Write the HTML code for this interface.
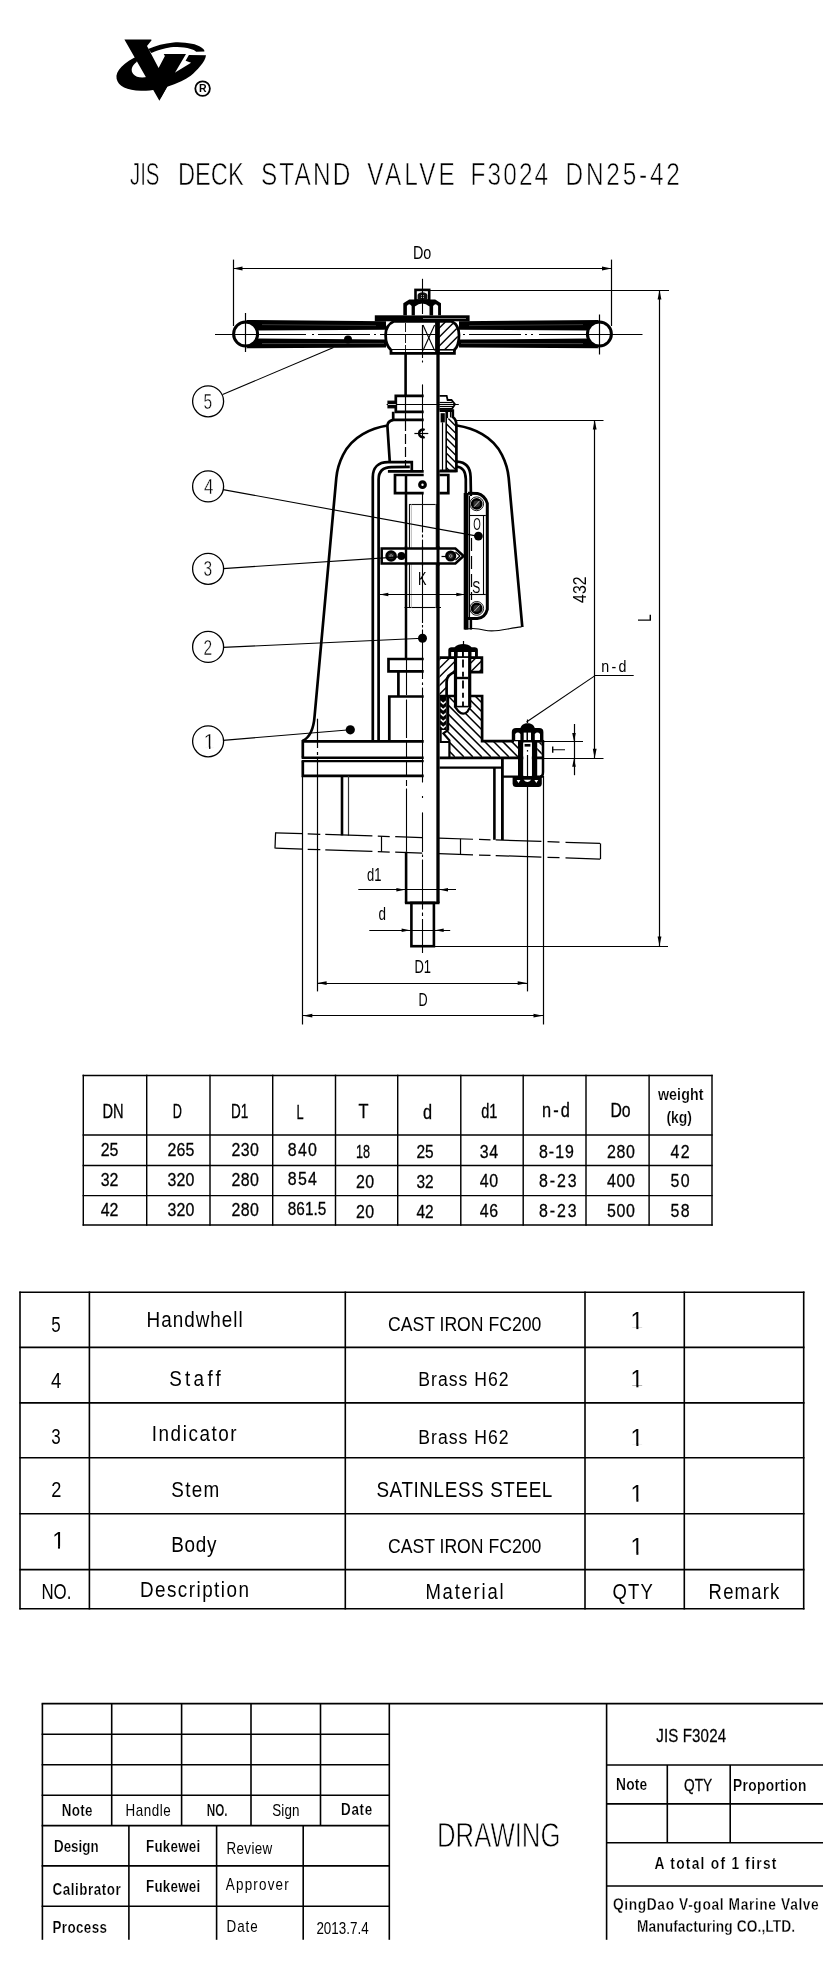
<!DOCTYPE html>
<html><head><meta charset="utf-8"><title>JIS DECK STAND VALVE F3024 DN25-42</title>
<style>
html,body{margin:0;padding:0;background:#fff;}
body{width:830px;height:1988px;overflow:hidden;font-family:"Liberation Sans",sans-serif;}
svg{display:block;position:absolute;left:0;top:0;will-change:transform;font-family:"Liberation Sans",sans-serif;}
svg *{stroke-linecap:butt;}
</style></head><body>
<svg width="830" height="1988" viewBox="0 0 830 1988" stroke="#000" fill="none">
<g id="logo" fill="#000" stroke="none">
<path d="M124.4,39.5 L151,39.5 C151.8,39.7 151.6,40.6 150.8,41.2 L147,46 L158.6,68 L164.9,56.1 L163.7,54 L186,54 L175.1,72.6 L159.4,100.8 Z"/>
<path d="M139,55.5 C124,62 115,71 116.6,78.8 C118,86 127,90.6 141,90.8 C147,90.9 152,90.2 156,89.2 L148,76.6 C142,78.6 136,77.4 133.2,74 C130.4,70.4 131.6,65.8 136.6,62 Z"/>
<path d="M188.9,55 L206,55.2 C205.6,58.6 203.4,62.5 200.1,66.3 C197.4,69.6 194.4,72.8 190.7,75.7 C187.6,78 184.6,79.6 181.3,81.2 C176.6,83.4 172,85 167.2,86.7 L160.4,98.6 L164,80 L174,72 L175.1,72.6 L191.1,62.8 L185.6,60.8 Z"/>
<path d="M148.2,48.9 C156,45.6 164,43.2 173.5,42.4 C178,42 181,42.2 185.2,42.8 C190,43.4 194,44 197,45.2 C200.4,46.6 203,48.2 204.2,50 L204.4,51.4 L196.2,51.7 C194.6,50.4 193,49.8 190.7,49.1 C186,47.6 182,47.2 177.4,47.1 C173,47 169.6,47.4 165.7,48.3 C160.4,49.4 156,51 151.4,53 Z"/>
</g>
<circle cx="202.6" cy="88.6" r="7.3" stroke-width="1.8" fill="none" />
<text x="202.7" y="92.4" font-size="10.5" font-weight="bold" text-anchor="middle" fill="#000" stroke="none">R</text>
<text transform="translate(129.90,185.4) scale(0.671,1)" font-size="30.5" font-weight="normal" fill="#000" stroke="#fff" stroke-width="0.6">JIS</text>
<text transform="translate(177.90,185.4) scale(0.777,1)" font-size="30.5" font-weight="normal" fill="#000" stroke="#fff" stroke-width="0.6">DECK</text>
<text transform="translate(261.00,185.4) scale(0.800,1)" font-size="30.5" font-weight="normal" letter-spacing="2.63" fill="#000" stroke="#fff" stroke-width="0.6">STAND</text>
<text transform="translate(367.30,185.4) scale(0.800,1)" font-size="30.5" font-weight="normal" letter-spacing="3.92" fill="#000" stroke="#fff" stroke-width="0.6">VALVE</text>
<text transform="translate(470.50,185.4) scale(0.800,1)" font-size="30.5" font-weight="normal" letter-spacing="2.66" fill="#000" stroke="#fff" stroke-width="0.6">F3024</text>
<text transform="translate(565.50,185.4) scale(0.800,1)" font-size="30.5" font-weight="normal" letter-spacing="3.50" fill="#000" stroke="#fff" stroke-width="0.6">DN25-42</text>
<g id="drawing">
<line x1="233.5" y1="259.6" x2="233.5" y2="326" stroke-width="1.2" />
<line x1="611.5" y1="259.6" x2="611.5" y2="326" stroke-width="1.2" />
<line x1="233" y1="268.5" x2="611.5" y2="268.5" stroke-width="1.2" />
<polygon points="233.00,268.50 242.50,266.60 242.50,270.40" fill="#000" stroke="none"/>
<polygon points="611.50,268.50 602.00,270.40 602.00,266.60" fill="#000" stroke="none"/>
<text transform="translate(412.90,259) scale(0.786,1)" font-size="18.3" font-weight="normal" fill="#000" stroke="none">Do</text>
<line x1="430" y1="290.5" x2="669" y2="290.5" stroke-width="1.2" />
<line x1="659.5" y1="290" x2="659.5" y2="946" stroke-width="1.2" />
<polygon points="659.50,290.00 661.40,299.50 657.60,299.50" fill="#000" stroke="none"/>
<polygon points="659.50,946.00 657.60,936.50 661.40,936.50" fill="#000" stroke="none"/>
<line x1="434" y1="946.5" x2="668" y2="946.5" stroke-width="1.2" />
<text transform="translate(650.6,621.7) rotate(-90) translate(0.00,0) scale(0.708,1)" font-size="19" font-weight="normal" fill="#000" stroke="none">L</text>
<line x1="456.5" y1="420.5" x2="603.5" y2="420.5" stroke-width="1.2" />
<line x1="543" y1="758.5" x2="603.5" y2="758.5" stroke-width="1.2" />
<line x1="594.5" y1="420" x2="594.5" y2="758.3" stroke-width="1.2" />
<polygon points="594.70,420.00 596.60,429.50 592.80,429.50" fill="#000" stroke="none"/>
<polygon points="594.70,758.30 592.80,748.80 596.60,748.80" fill="#000" stroke="none"/>
<text transform="translate(585.5,602.9) rotate(-90) translate(0.00,0) scale(0.836,1)" font-size="19" font-weight="normal" fill="#000" stroke="none">432</text>
<line x1="526.5" y1="722" x2="594.7" y2="675.9" stroke-width="1.1" />
<line x1="594.7" y1="675.5" x2="633.7" y2="675.5" stroke-width="1.1" />
<text transform="translate(601.20,672) scale(0.840,1)" font-size="17" font-weight="normal" letter-spacing="2.76" fill="#000" stroke="none">n-d</text>
<line x1="543" y1="741.5" x2="583" y2="741.5" stroke-width="1.2" />
<line x1="574.5" y1="724" x2="574.5" y2="775.2" stroke-width="1.2" />
<polygon points="574.00,741.40 572.20,732.90 575.80,732.90" fill="#000" stroke="none"/>
<polygon points="574.00,758.30 575.80,766.80 572.20,766.80" fill="#000" stroke="none"/>
<text transform="translate(564.6,753) rotate(-90) translate(0.00,0) scale(0.609,1)" font-size="18" font-weight="normal" fill="#000" stroke="none">T</text>
<polygon points="246,320 386,321.2 386,329.8 257,330.5" fill="#000" stroke="none"/>
<polygon points="246,348.2 386,347.6 386,339.6 257,338.6" fill="#000" stroke="none"/>
<polygon points="599,320 459,321.2 459,329.8 588,330.5" fill="#000" stroke="none"/>
<polygon points="599,348.2 459,347.6 459,339.6 588,338.6" fill="#000" stroke="none"/>
<line x1="262" y1="324.6" x2="376" y2="325.6" stroke-width="0.6" stroke="#fff" opacity="0.35"/>
<line x1="469" y1="325.6" x2="583" y2="324.6" stroke-width="0.6" stroke="#fff" opacity="0.35"/>
<line x1="262" y1="343.6" x2="384" y2="343.4" stroke-width="0.6" stroke="#fff" opacity="0.45"/>
<line x1="461" y1="343.4" x2="583" y2="343.6" stroke-width="0.6" stroke="#fff" opacity="0.45"/>
<circle cx="245.6" cy="334" r="12" stroke-width="3" fill="#fff" />
<circle cx="599.4" cy="334" r="12" stroke-width="3" fill="#fff" />
<line x1="215" y1="334.5" x2="306" y2="334.5" stroke-width="1.2" />
<line x1="312" y1="334.5" x2="386" y2="334.5" stroke-width="1.2" stroke-dasharray="2 4 52 4"/>
<line x1="459" y1="334.5" x2="533" y2="334.5" stroke-width="1.2" stroke-dasharray="52 4 2 4" stroke-dashoffset="-10"/>
<line x1="539" y1="334.5" x2="642.5" y2="334.5" stroke-width="1.2" />
<line x1="245.5" y1="313" x2="245.5" y2="352" stroke-width="1.2" />
<line x1="599.5" y1="314.5" x2="599.5" y2="354.5" stroke-width="1.2" />
<circle cx="348" cy="339.6" r="4" stroke-width="0" fill="#000" stroke="none"/>
<rect x="374.8" y="315.3" width="94.8" height="6.0" stroke-width="0" fill="#000" stroke="none"/>
<line x1="423" y1="318.5" x2="466" y2="318.5" stroke-width="0.7" stroke="#fff" opacity="0.7"/>
<path d="M394,321.3 C388,324 385.6,329 385.6,335 C385.6,341.5 387.5,347 391,350 L391,353.3 L454.4,353.3 L454.4,350 C457.6,347 459,341.5 459,335 C459,329 456.8,324 451.5,321.3 Z" stroke-width="2.8" fill="#fff" />
<clipPath id="hc1"><path d="M438.5,322 L450.5,322 C455.8,324.5 457.8,329 457.8,335 C457.8,341 456.4,346.5 453.4,350 L438.5,350 Z"/></clipPath><g clip-path="url(#hc1)">
<line x1="400.3" y1="322" x2="372.3" y2="350" stroke-width="1.4" />
<line x1="409.3" y1="322" x2="381.3" y2="350" stroke-width="1.4" />
<line x1="418.3" y1="322" x2="390.3" y2="350" stroke-width="1.4" />
<line x1="427.3" y1="322" x2="399.3" y2="350" stroke-width="1.4" />
<line x1="436.3" y1="322" x2="408.3" y2="350" stroke-width="1.4" />
<line x1="445.3" y1="322" x2="417.3" y2="350" stroke-width="1.4" />
<line x1="454.3" y1="322" x2="426.3" y2="350" stroke-width="1.4" />
<line x1="463.3" y1="322" x2="435.3" y2="350" stroke-width="1.4" />
<line x1="472.3" y1="322" x2="444.3" y2="350" stroke-width="1.4" />
<line x1="481.3" y1="322" x2="453.3" y2="350" stroke-width="1.4" />
<line x1="490.3" y1="322" x2="462.3" y2="350" stroke-width="1.4" />
</g>
<line x1="437.5" y1="321.3" x2="437.5" y2="353.3" stroke-width="4.8" />
<line x1="422.5" y1="325" x2="422.5" y2="350.4" stroke-width="1.2" />
<line x1="423" y1="325" x2="434.6" y2="350.4" stroke-width="1.1" />
<line x1="434.6" y1="325" x2="423" y2="350.4" stroke-width="1.1" />
<line x1="405.5" y1="323" x2="405.5" y2="352" stroke-width="0.9" stroke-dasharray="9 2"/>
<line x1="386" y1="334.5" x2="436" y2="334.5" stroke-width="1.2" />
<line x1="389" y1="349.5" x2="436" y2="349.5" stroke-width="1.2" />
<line x1="438.5" y1="349.8" x2="456" y2="349.8" stroke-width="1.6" />
<rect x="415.5" y="289.9" width="13.7" height="10.6" stroke-width="2.6" fill="#fff" />
<path d="M417.6,299.6 L417.6,295 C418.4,291.2 426.6,291.2 427.4,295 L427.4,299.6 Z" fill="#111" stroke="none"/>
<line x1="421.5" y1="295.2" x2="421.5" y2="298.6" stroke-width="0.7" stroke="#fff" stroke-dasharray="1 0.8"/>
<line x1="423.5" y1="295.2" x2="423.5" y2="298.6" stroke-width="0.7" stroke="#fff" stroke-dasharray="1 0.8"/>
<path d="M403.3,315.3 L403.3,303.2 L409.2,299.5 L435.2,299.5 L441,303.2 L441,315.3 Z" fill="#000" stroke="none"/>
<path d="M406.9,315.3 L406.9,306 Q409.2,302.6 411.6,306 L411.6,315.3 Z" fill="#fff" stroke="none"/>
<path d="M414.9,315.3 L414.9,306.6 Q422.2,300.4 429.5,306.6 L429.5,315.3 Z" fill="#fff" stroke="none"/>
<path d="M433.1,315.3 L433.1,306 Q435.6,302.6 438.1,306 L438.1,315.3 Z" fill="#fff" stroke="none"/>
<line x1="405.6" y1="353.3" x2="405.6" y2="396" stroke-width="2.6" />
<line x1="438" y1="353.3" x2="438" y2="903" stroke-width="3.3" />
<line x1="405.5" y1="396" x2="405.5" y2="420" stroke-width="1.2" />
<line x1="405.5" y1="421" x2="405.5" y2="466" stroke-width="1.2" stroke-dasharray="10 3"/>
<line x1="406" y1="475" x2="406" y2="659" stroke-width="2.5" />
<line x1="406.5" y1="659" x2="406.5" y2="695" stroke-width="1.1" />
<line x1="406.5" y1="699.5" x2="406.5" y2="738" stroke-width="1.1" />
<line x1="406.5" y1="742" x2="406.5" y2="757" stroke-width="1.1" />
<line x1="406.5" y1="761" x2="406.5" y2="775" stroke-width="1.1" />
<line x1="406.5" y1="780" x2="406.5" y2="786" stroke-width="1.1" />
<line x1="406.5" y1="788.5" x2="406.5" y2="851.8" stroke-width="1.1" />
<line x1="406.1" y1="851.8" x2="406.1" y2="903" stroke-width="2.6" />
<line x1="404.9" y1="902.9" x2="439.5" y2="902.9" stroke-width="2.6" />
<rect x="411.4" y="902.9" width="22.5" height="43.3" stroke-width="2.6" fill="none" />
<line x1="422.5" y1="278.8" x2="422.5" y2="314" stroke-width="1.1" />
<line x1="422.5" y1="328" x2="422.5" y2="358" stroke-width="1.1" />
<line x1="422.5" y1="360.5" x2="422.5" y2="362.5" stroke-width="1.1" />
<line x1="422.5" y1="384.4" x2="422.5" y2="470.7" stroke-width="1.1" />
<line x1="422.5" y1="493.6" x2="422.5" y2="532.5" stroke-width="1.1" />
<line x1="422.5" y1="534.5" x2="422.5" y2="537.5" stroke-width="1.1" />
<line x1="422.5" y1="539.6" x2="422.5" y2="623" stroke-width="1.1" />
<line x1="422.5" y1="625" x2="422.5" y2="627.5" stroke-width="1.1" />
<line x1="422.5" y1="629.5" x2="422.5" y2="679" stroke-width="1.1" />
<line x1="422.5" y1="682.4" x2="422.5" y2="685" stroke-width="1.1" />
<line x1="422.5" y1="687.6" x2="422.5" y2="782.5" stroke-width="1.1" />
<line x1="422.5" y1="796" x2="422.5" y2="798" stroke-width="1.1" />
<line x1="422.5" y1="812.4" x2="422.5" y2="852" stroke-width="1.1" />
<line x1="422.5" y1="854.5" x2="422.5" y2="857" stroke-width="1.1" />
<line x1="422.5" y1="859.5" x2="422.5" y2="909.6" stroke-width="1.1" />
<line x1="422.5" y1="912.5" x2="422.5" y2="916" stroke-width="1.1" />
<line x1="422.5" y1="919" x2="422.5" y2="953" stroke-width="1.1" />
<path d="M387.5,425.5 C372,428 352,436 343,455 C338.5,464 337,470 336.3,478 L314.6,716 C313.8,727 311,737 302.5,741" stroke-width="2.7" fill="none" />
<path d="M457,425.5 C473,428 493,436 502,455 C506.5,464 508,470 508.7,478 L522.3,627" stroke-width="2.7" fill="none" />
<path d="M464.6,629.2 C472,628 478,628.4 485,630.2 C496,633 508,628 521.5,626.9" stroke-width="1.1" fill="none" />
<path d="M423.7,395.9 L395.8,395.9 L395.8,411.8 L423.7,411.8" stroke-width="2.7" fill="none" />
<path d="M393.2,411.8 L393.2,419.8 L423.7,419.8" stroke-width="2.7" fill="none" />
<rect x="388" y="401.2" width="7.8" height="6.6" stroke-width="1.2" fill="#000" />
<line x1="386.6" y1="404.5" x2="458.8" y2="404.5" stroke-width="1.2" />
<line x1="388" y1="404.5" x2="395.8" y2="404.5" stroke-width="0.8" stroke="#fff"/>
<path d="M393.2,419.8 C389.5,420.5 387.5,422.5 387.4,426 L389.8,462.2" stroke-width="2.7" fill="none" />
<path d="M439.5,395.9 L446.7,395.9 L447.6,400 L451.5,400 L455,404.4 L452,408.8 L439.5,408.8" stroke-width="1.8" fill="none" />
<line x1="439.5" y1="402.5" x2="452.5" y2="402.5" stroke-width="1.2" />
<line x1="439.5" y1="406.5" x2="453" y2="406.5" stroke-width="1.2" />
<path d="M439.5,410.6 L452.8,410.6 L452.8,417 C455.5,419 456.4,421 456.4,425 L456.4,470.8 L439.5,470.8" stroke-width="2.7" fill="#fff" />
<clipPath id="hc2"><path d="M446.2,419 L452.6,417.4 C455.4,419 456.2,421 456.2,425 L456.2,470.6 L446.2,470.6 Z"/></clipPath><g clip-path="url(#hc2)">
<line x1="382.1" y1="418" x2="435.1" y2="471" stroke-width="1.4" />
<line x1="389.4" y1="418" x2="442.4" y2="471" stroke-width="1.4" />
<line x1="396.7" y1="418" x2="449.7" y2="471" stroke-width="1.4" />
<line x1="404.0" y1="418" x2="457.0" y2="471" stroke-width="1.4" />
<line x1="411.3" y1="418" x2="464.3" y2="471" stroke-width="1.4" />
<line x1="418.6" y1="418" x2="471.6" y2="471" stroke-width="1.4" />
<line x1="425.9" y1="418" x2="478.9" y2="471" stroke-width="1.4" />
<line x1="433.2" y1="418" x2="486.2" y2="471" stroke-width="1.4" />
<line x1="440.5" y1="418" x2="493.5" y2="471" stroke-width="1.4" />
<line x1="447.8" y1="418" x2="500.8" y2="471" stroke-width="1.4" />
<line x1="455.1" y1="418" x2="508.1" y2="471" stroke-width="1.4" />
<line x1="462.4" y1="418" x2="515.4" y2="471" stroke-width="1.4" />
<line x1="469.7" y1="418" x2="522.7" y2="471" stroke-width="1.4" />
<line x1="477.0" y1="418" x2="530.0" y2="471" stroke-width="1.4" />
<line x1="484.3" y1="418" x2="537.3" y2="471" stroke-width="1.4" />
<line x1="491.6" y1="418" x2="544.6" y2="471" stroke-width="1.4" />
<line x1="498.9" y1="418" x2="551.9" y2="471" stroke-width="1.4" />
<line x1="506.2" y1="418" x2="559.2" y2="471" stroke-width="1.4" />
<line x1="513.5" y1="418" x2="566.5" y2="471" stroke-width="1.4" />
</g>
<line x1="446.2" y1="411" x2="446.2" y2="470.8" stroke-width="1.6" />
<rect x="440.6" y="413.2" width="4.2" height="9.2" stroke-width="0" fill="#000" stroke="none"/>
<line x1="442.5" y1="422.4" x2="442.5" y2="470.8" stroke-width="1.2" />
<line x1="447.5" y1="411" x2="447.5" y2="418" stroke-width="1.2" />
<line x1="450.5" y1="411" x2="450.5" y2="417.4" stroke-width="1.2" />
<line x1="414.4" y1="433.5" x2="428.3" y2="433.5" stroke-width="1.2" />
<path d="M424.6,430 A3.8,3.8 0 1 0 424.6,436.8" stroke-width="2.5" fill="none" />
<path d="M411.8,470.6 L411.8,462.2 L388,462.2 C378,462.2 372.8,468 372.8,477 L372.8,741.4" stroke-width="2.7" fill="none" />
<path d="M409.8,466.9 L391.5,467.1 C383,467.2 378.6,471.5 378.6,479.5 L378.6,741.4" stroke-width="2.7" fill="none" />
<line x1="387.9" y1="471.4" x2="423.7" y2="471.4" stroke-width="2.8" />
<path d="M456.8,461.6 C466,462 470.4,468 470.6,477 L470.9,494" stroke-width="2.7" fill="none" />
<path d="M456.5,466.5 C462,467 465.6,471 465.8,479 L465.8,496" stroke-width="2.7" fill="none" />
<line x1="439.5" y1="471.2" x2="456.5" y2="471.2" stroke-width="2.2" />
<path d="M423.7,475 L395,475 L395,493.2 L423.7,493.2" stroke-width="2.7" fill="none" />
<path d="M439.5,475 L448.3,475 L448.3,493.2 L439.5,493.2" stroke-width="2.7" fill="none" />
<circle cx="422.5" cy="484.7" r="2.8" stroke-width="3.2" fill="#fff" />
<rect x="409.5" y="504.5" width="27.0" height="103.0" stroke-width="1.1" fill="none" stroke="#111"/>
<line x1="404.5" y1="607.5" x2="441" y2="607.5" stroke-width="1.2" />
<line x1="411.5" y1="504.2" x2="411.5" y2="607.8" stroke-width="0.7" stroke="#aaa"/>
<line x1="435.5" y1="504.2" x2="435.5" y2="607.8" stroke-width="0.7" stroke="#aaa"/>
<path d="M381.7,548.5 L455.4,548.5 L463.6,556 L455.4,563.4 L381.7,563.4 Z" stroke-width="2.5" fill="#fff" />
<line x1="406" y1="546" x2="406" y2="566" stroke-width="2.4" />
<line x1="438" y1="546" x2="438" y2="566" stroke-width="3" />
<line x1="422.5" y1="546" x2="422.5" y2="566" stroke-width="1.2" />
<circle cx="391.1" cy="556" r="4.5" stroke-width="2.6" fill="#222" />
<circle cx="391.1" cy="556" r="1.3" stroke-width="0.8" fill="none" stroke="#bbb"/>
<circle cx="401.4" cy="556" r="3.9" stroke-width="0" fill="#000" stroke="none"/>
<circle cx="450.7" cy="556" r="4.3" stroke-width="2.6" fill="#222" />
<circle cx="450.7" cy="556" r="1.3" stroke-width="0.8" fill="none" stroke="#bbb"/>
<line x1="441.5" y1="556.5" x2="446" y2="556.5" stroke-width="1.2" />
<line x1="455.4" y1="552" x2="460" y2="556" stroke-width="1.2" />
<line x1="455.4" y1="560" x2="460" y2="556" stroke-width="1.2" />
<line x1="379.8" y1="594.5" x2="465" y2="594.5" stroke-width="1.2" />
<polygon points="379.80,594.50 388.30,592.70 388.30,596.30" fill="#000" stroke="none"/>
<polygon points="464.80,594.50 456.30,596.30 456.30,592.70" fill="#000" stroke="none"/>
<text transform="translate(418.00,584.7) scale(0.726,1)" font-size="17.5" font-weight="normal" fill="#000" stroke="none">K</text>
<path d="M468,493.2 L477.5,493.4 C482,494.2 486,498.5 487.3,503.3 L487.3,609.3 C486,614.5 482,618 477.2,618.5 L468,618.5" stroke-width="3" fill="#fff" />
<line x1="466.1" y1="493" x2="466.1" y2="629.6" stroke-width="4.8" />
<line x1="470.9" y1="493" x2="470.9" y2="496" stroke-width="2.5" />
<line x1="470.9" y1="617" x2="470.9" y2="629.6" stroke-width="2.5" />
<line x1="469.5" y1="496" x2="469.5" y2="617" stroke-width="1.1" />
<line x1="483.5" y1="515.8" x2="483.5" y2="594.4" stroke-width="1.1" />
<line x1="469" y1="515.5" x2="485.8" y2="515.5" stroke-width="1.1" />
<line x1="469" y1="594.5" x2="485.8" y2="594.5" stroke-width="1.1" />
<circle cx="476.7" cy="503.8" r="6.9" stroke-width="0.9" fill="none" />
<circle cx="476.7" cy="503.8" r="4.6" stroke-width="2.6" fill="#333" />
<line x1="474" y1="506.8" x2="479.6" y2="500.8" stroke-width="0.9" stroke="#fff" opacity="0.8"/>
<circle cx="476.7" cy="608.4" r="6.9" stroke-width="0.9" fill="none" />
<circle cx="476.7" cy="608.4" r="4.6" stroke-width="2.6" fill="#333" />
<line x1="474" y1="611.4" x2="479.6" y2="605.4" stroke-width="0.9" stroke="#fff" opacity="0.8"/>
<line x1="471.5" y1="538" x2="471.5" y2="600" stroke-width="1.2" stroke-dasharray="13 5"/>
<text transform="translate(473.30,530.3) scale(0.568,1)" font-size="17" font-weight="normal" fill="#000" stroke="none">O</text>
<text transform="translate(472.30,592.6) scale(0.708,1)" font-size="17" font-weight="normal" fill="#000" stroke="none">S</text>
<circle cx="478.4" cy="536.1" r="4.4" stroke-width="0" fill="#000" stroke="none"/>
<circle cx="422.5" cy="638.2" r="4.5" stroke-width="0" fill="#000" stroke="none"/>
<circle cx="350.3" cy="729.8" r="4.6" stroke-width="0" fill="#000" stroke="none"/>
<path d="M423.7,659 L388.5,659 L388.5,671.4 L423.7,671.4" stroke-width="2.7" fill="none" />
<path d="M398.4,671.4 L398.4,696.5" stroke-width="2.7" fill="none" />
<path d="M423.7,696.5 L389.3,696.5 L389.3,741.4" stroke-width="2.7" fill="none" />
<clipPath id="hc3"><path d="M439.5,657.7 L481.9,657.7 L481.9,672.2 L471,672.2 L471,657.7 L455.5,657.7 L455.5,672 C450,673.4 446.6,676.5 446.6,682 L446.6,696 L439.5,696 Z"/></clipPath><g clip-path="url(#hc3)">
<line x1="389.0" y1="657.7" x2="350.7" y2="696" stroke-width="1.4" />
<line x1="397.7" y1="657.7" x2="359.4" y2="696" stroke-width="1.4" />
<line x1="406.4" y1="657.7" x2="368.1" y2="696" stroke-width="1.4" />
<line x1="415.1" y1="657.7" x2="376.8" y2="696" stroke-width="1.4" />
<line x1="423.8" y1="657.7" x2="385.5" y2="696" stroke-width="1.4" />
<line x1="432.5" y1="657.7" x2="394.2" y2="696" stroke-width="1.4" />
<line x1="441.2" y1="657.7" x2="402.9" y2="696" stroke-width="1.4" />
<line x1="449.9" y1="657.7" x2="411.6" y2="696" stroke-width="1.4" />
<line x1="458.6" y1="657.7" x2="420.3" y2="696" stroke-width="1.4" />
<line x1="467.3" y1="657.7" x2="429.0" y2="696" stroke-width="1.4" />
<line x1="476.0" y1="657.7" x2="437.7" y2="696" stroke-width="1.4" />
<line x1="484.7" y1="657.7" x2="446.4" y2="696" stroke-width="1.4" />
<line x1="493.4" y1="657.7" x2="455.1" y2="696" stroke-width="1.4" />
<line x1="502.1" y1="657.7" x2="463.8" y2="696" stroke-width="1.4" />
<line x1="510.8" y1="657.7" x2="472.5" y2="696" stroke-width="1.4" />
<line x1="519.5" y1="657.7" x2="481.2" y2="696" stroke-width="1.4" />
<line x1="528.2" y1="657.7" x2="489.9" y2="696" stroke-width="1.4" />
</g>
<path d="M439.5,657.7 L481.9,657.7 L481.9,672.2 L470,672.2" stroke-width="2.7" fill="none" />
<path d="M455.5,672 C450,673.4 446.6,676.5 446.6,682 L446.6,696" stroke-width="2.7" fill="none" />
<clipPath id="hc4"><path d="M448,696 L482.1,696 L482.1,741 L519,741 L519,758 L449.4,758 L449.4,740.4 L443.4,733.4 L448,730 Z"/></clipPath><g clip-path="url(#hc4)">
<line x1="367.1" y1="696" x2="427.8" y2="756.7" stroke-width="1.5" />
<line x1="376.1" y1="696" x2="436.8" y2="756.7" stroke-width="1.5" />
<line x1="385.1" y1="696" x2="445.8" y2="756.7" stroke-width="1.5" />
<line x1="394.1" y1="696" x2="454.8" y2="756.7" stroke-width="1.5" />
<line x1="403.1" y1="696" x2="463.8" y2="756.7" stroke-width="1.5" />
<line x1="412.1" y1="696" x2="472.8" y2="756.7" stroke-width="1.5" />
<line x1="421.1" y1="696" x2="481.8" y2="756.7" stroke-width="1.5" />
<line x1="430.1" y1="696" x2="490.8" y2="756.7" stroke-width="1.5" />
<line x1="439.1" y1="696" x2="499.8" y2="756.7" stroke-width="1.5" />
<line x1="448.1" y1="696" x2="508.8" y2="756.7" stroke-width="1.5" />
<line x1="457.1" y1="696" x2="517.8" y2="756.7" stroke-width="1.5" />
<line x1="466.1" y1="696" x2="526.8" y2="756.7" stroke-width="1.5" />
<line x1="475.1" y1="696" x2="535.8" y2="756.7" stroke-width="1.5" />
<line x1="484.1" y1="696" x2="544.8" y2="756.7" stroke-width="1.5" />
<line x1="493.1" y1="696" x2="553.8" y2="756.7" stroke-width="1.5" />
<line x1="502.1" y1="696" x2="562.8" y2="756.7" stroke-width="1.5" />
<line x1="511.1" y1="696" x2="571.8" y2="756.7" stroke-width="1.5" />
<line x1="520.1" y1="696" x2="580.8" y2="756.7" stroke-width="1.5" />
<line x1="529.1" y1="696" x2="589.8" y2="756.7" stroke-width="1.5" />
<line x1="538.1" y1="696" x2="598.8" y2="756.7" stroke-width="1.5" />
<line x1="547.1" y1="696" x2="607.8" y2="756.7" stroke-width="1.5" />
<line x1="556.1" y1="696" x2="616.8" y2="756.7" stroke-width="1.5" />
<line x1="565.1" y1="696" x2="625.8" y2="756.7" stroke-width="1.5" />
<line x1="574.1" y1="696" x2="634.8" y2="756.7" stroke-width="1.5" />
<line x1="583.1" y1="696" x2="643.8" y2="756.7" stroke-width="1.5" />
</g>
<path d="M439.5,696 L482.1,696 L482.1,741.2 L514,741.2" stroke-width="2.7" fill="none" />
<rect x="439.5" y="697" width="7.3" height="33" stroke-width="0" fill="#000" stroke="none"/>
<path d="M440.6,700.5 L443.2,702.7 L445.8,700.5 L445.8,702.5 L443.2,704.7 L440.6,702.5 Z" fill="#fff" stroke="none"/>
<path d="M440.6,706.5 L443.2,708.7 L445.8,706.5 L445.8,708.5 L443.2,710.7 L440.6,708.5 Z" fill="#fff" stroke="none"/>
<path d="M440.6,712.5 L443.2,714.7 L445.8,712.5 L445.8,714.5 L443.2,716.7 L440.6,714.5 Z" fill="#fff" stroke="none"/>
<path d="M440.6,718.5 L443.2,720.7 L445.8,718.5 L445.8,720.5 L443.2,722.7 L440.6,720.5 Z" fill="#fff" stroke="none"/>
<path d="M440.6,724.5 L443.2,726.7 L445.8,724.5 L445.8,726.5 L443.2,728.7 L440.6,726.5 Z" fill="#fff" stroke="none"/>
<line x1="448" y1="696" x2="448" y2="730.6" stroke-width="2.4" />
<path d="M448,730 L443.4,733.4 L449.4,740.4 L449.4,758" stroke-width="2.2" fill="none" />
<path d="M440.7,729.8 L440.7,742 L449.4,742" stroke-width="2" fill="none" />
<path d="M455.5,657.7 L455.5,706.3 L459,711.5 Q463.2,716 467.4,711.5 L469.7,706.3 L469.7,657.7 Z" stroke-width="0" fill="#fff" stroke="none"/>
<line x1="455.5" y1="657" x2="455.5" y2="707" stroke-width="3.2" />
<line x1="469.7" y1="657" x2="469.7" y2="707" stroke-width="3.2" />
<path d="M454.6,706.3 L458.6,711.4 Q463.2,716 467.6,711.4 L470.6,706.3" stroke-width="2.2" fill="none" />
<line x1="457" y1="706.6" x2="468.4" y2="706.6" stroke-width="1.6" />
<line x1="463" y1="659.5" x2="463" y2="706" stroke-width="1.8" stroke-dasharray="8 4.3 5 3.7"/>
<line x1="457" y1="678" x2="468.2" y2="678" stroke-width="2.4" />
<line x1="463.5" y1="641" x2="463.5" y2="645" stroke-width="1.2" />
<path d="M448.3,657.7 L448.3,650 C448.3,648 449.6,647.2 451.5,647.2 L454.5,647.2 C459,642.8 467.4,642.8 471.6,647.2 L474.6,647.2 C476.6,647.2 477.9,648 477.9,650 L477.9,657.7 Z" fill="#000" stroke="none"/>
<rect x="451.2" y="652" width="2.8" height="4.2" stroke-width="0" fill="#fff" stroke="none"/>
<rect x="457.7" y="652" width="4.3" height="4.2" stroke-width="0" fill="#fff" stroke="none"/>
<rect x="463.9" y="652" width="4.2" height="4.2" stroke-width="0" fill="#fff" stroke="none"/>
<rect x="471.5" y="652" width="3.5" height="4.2" stroke-width="0" fill="#fff" stroke="none"/>
<path d="M423.7,741.4 L302.8,741.4 L302.8,757.6" stroke-width="2.7" fill="none" />
<line x1="301.6" y1="757.8" x2="423.7" y2="757.8" stroke-width="2.6" />
<line x1="301.6" y1="761.2" x2="423.7" y2="761.2" stroke-width="2.2" />
<path d="M302.8,761.2 L302.8,775.9 L423.7,775.9" stroke-width="2.7" fill="none" />
<line x1="302.5" y1="775.9" x2="302.5" y2="1024.5" stroke-width="1.2" />
<line x1="317.5" y1="718.7" x2="317.5" y2="748" stroke-width="1.2" />
<line x1="317.5" y1="752" x2="317.5" y2="755" stroke-width="1.2" />
<line x1="317.5" y1="759" x2="317.5" y2="991.4" stroke-width="1.2" />
<line x1="439.5" y1="757.9" x2="543" y2="757.9" stroke-width="2.8" />
<line x1="439.5" y1="767.6" x2="503" y2="767.6" stroke-width="2.4" />
<line x1="342" y1="775.9" x2="342" y2="835.4" stroke-width="2.6" />
<line x1="348.5" y1="775.9" x2="348.5" y2="835.6" stroke-width="1.2" stroke="#333"/>
<line x1="494.4" y1="767.6" x2="494.4" y2="839.8" stroke-width="2.6" />
<line x1="502.4" y1="759" x2="502.4" y2="840" stroke-width="2.8" />
<line x1="502.4" y1="776.6" x2="543" y2="776.6" stroke-width="2.4" />
<path d="M543,741.4 L543,772 C543,775 542,776.6 540,776.6" stroke-width="2.5" fill="none" />
<line x1="518" y1="741.3" x2="544.2" y2="741.3" stroke-width="2.7" />
<rect x="518" y="736" width="5.4" height="41" stroke-width="0" fill="#000" stroke="none"/>
<rect x="531.8" y="736" width="5.4" height="41" stroke-width="0" fill="#000" stroke="none"/>
<rect x="523.4" y="742.6" width="8.4" height="34.4" stroke-width="0" fill="#fff" stroke="none"/>
<clipPath id="hc5"><path d="M537.2,742.6 L541.8,742.6 L541.8,756.6 L537.2,756.6 Z"/></clipPath><g clip-path="url(#hc5)">
<line x1="439.5" y1="741.4" x2="454.8" y2="756.7" stroke-width="1.5" />
<line x1="448.5" y1="741.4" x2="463.8" y2="756.7" stroke-width="1.5" />
<line x1="457.5" y1="741.4" x2="472.8" y2="756.7" stroke-width="1.5" />
<line x1="466.5" y1="741.4" x2="481.8" y2="756.7" stroke-width="1.5" />
<line x1="475.5" y1="741.4" x2="490.8" y2="756.7" stroke-width="1.5" />
<line x1="484.5" y1="741.4" x2="499.8" y2="756.7" stroke-width="1.5" />
<line x1="493.5" y1="741.4" x2="508.8" y2="756.7" stroke-width="1.5" />
<line x1="502.5" y1="741.4" x2="517.8" y2="756.7" stroke-width="1.5" />
<line x1="511.5" y1="741.4" x2="526.8" y2="756.7" stroke-width="1.5" />
<line x1="520.5" y1="741.4" x2="535.8" y2="756.7" stroke-width="1.5" />
<line x1="529.5" y1="741.4" x2="544.8" y2="756.7" stroke-width="1.5" />
<line x1="538.5" y1="741.4" x2="553.8" y2="756.7" stroke-width="1.5" />
<line x1="547.5" y1="741.4" x2="562.8" y2="756.7" stroke-width="1.5" />
<line x1="556.5" y1="741.4" x2="571.8" y2="756.7" stroke-width="1.5" />
<line x1="565.5" y1="741.4" x2="580.8" y2="756.7" stroke-width="1.5" />
</g>
<path d="M511.8,741.3 L511.8,732 C511.8,729 513.3,727.9 516,727.9 L539.2,727.9 C542,727.9 543.4,729 543.4,732 L543.4,741.3 Z" fill="#000" stroke="none"/>
<path d="M520.4,728.4 C521.4,721.4 533.8,721.4 534.8,728.4 Z" fill="#000" stroke="none"/>
<path d="M515.2,740 L515.2,734 Q517.8,731.2 520.4,734 L520.4,740 Z" fill="#fff" stroke="none"/>
<path d="M534.8,740 L534.8,734 Q537.4,731.2 540,734 L540,740 Z" fill="#fff" stroke="none"/>
<rect x="523.7" y="732.6" width="2.8" height="7.4" stroke-width="0" fill="#fff" stroke="none"/>
<rect x="528" y="732.6" width="3" height="7.4" stroke-width="0" fill="#fff" stroke="none"/>
<line x1="527.5" y1="719.5" x2="527.5" y2="723" stroke-width="1.2" />
<rect x="524.6" y="744" width="5.8" height="2.6" stroke-width="0" fill="#000" stroke="none"/>
<line x1="527.5" y1="750" x2="527.5" y2="751.6" stroke-width="1.2" />
<line x1="527.5" y1="755" x2="527.5" y2="777" stroke-width="1.2" />
<path d="M512.6,776 L512.6,783.4 C512.6,785.8 514,786.9 516,786.9 L538.4,786.9 C540.4,786.9 541.8,785.8 541.8,783.4 L541.8,776 Z" fill="#000" stroke="none"/>
<path d="M516.6,780 L520.4,780 L518.5,783 Z M523.6,779.8 L531.2,779.8 Q527.4,784.4 523.6,779.8 Z M534.4,780 L538.2,780 L536.3,783 Z" fill="#fff" stroke="none"/>
<line x1="527.5" y1="785.8" x2="527.5" y2="991.4" stroke-width="1.2" />
<line x1="543.5" y1="776" x2="543.5" y2="1024.5" stroke-width="1.2" />
<line x1="275.3" y1="832.78" x2="303" y2="833.69" stroke-width="1.25" />
<line x1="275.3" y1="848.22" x2="303" y2="849.14" stroke-width="1.25" />
<line x1="307.7" y1="833.84" x2="320.3" y2="834.26" stroke-width="1.25" />
<line x1="307.7" y1="849.3" x2="320.3" y2="849.72" stroke-width="1.25" />
<line x1="325.3" y1="834.42" x2="372.4" y2="835.96" stroke-width="1.25" />
<line x1="325.3" y1="849.89" x2="372.4" y2="851.46" stroke-width="1.25" />
<line x1="377.8" y1="836.14" x2="389.7" y2="836.52" stroke-width="1.25" />
<line x1="377.8" y1="851.64" x2="389.7" y2="852.04" stroke-width="1.25" />
<line x1="395.2" y1="836.7" x2="422.3" y2="837.59" stroke-width="1.25" />
<line x1="395.2" y1="852.22" x2="422.3" y2="853.13" stroke-width="1.25" />
<line x1="438.7" y1="838.13" x2="473" y2="839.25" stroke-width="1.25" />
<line x1="438.7" y1="853.67" x2="473" y2="854.82" stroke-width="1.25" />
<line x1="479" y1="839.44" x2="490.5" y2="839.82" stroke-width="1.25" />
<line x1="479" y1="855.02" x2="490.5" y2="855.4" stroke-width="1.25" />
<line x1="495.7" y1="839.99" x2="541.4" y2="841.49" stroke-width="1.25" />
<line x1="495.7" y1="855.58" x2="541.4" y2="857.1" stroke-width="1.25" />
<line x1="547.5" y1="841.68" x2="559.5" y2="842.08" stroke-width="1.25" />
<line x1="547.5" y1="857.31" x2="559.5" y2="857.71" stroke-width="1.25" />
<line x1="565.5" y1="842.27" x2="600" y2="843.4" stroke-width="1.25" />
<line x1="565.5" y1="857.91" x2="600" y2="859.06" stroke-width="1.25" />
<line x1="275.6" y1="832.6" x2="275" y2="848.4" stroke-width="1.25" />
<line x1="600.5" y1="843.4" x2="600.5" y2="859.2" stroke-width="1.25" />
<line x1="381.5" y1="836.26" x2="381.5" y2="851.76" stroke-width="1.2" />
<line x1="460.5" y1="838.85" x2="460.5" y2="854.42" stroke-width="1.2" />
<line x1="358.3" y1="889.5" x2="456" y2="889.5" stroke-width="1.2" />
<polygon points="404.90,889.80 396.40,891.60 396.40,888.00" fill="#000" stroke="none"/>
<polygon points="439.50,889.80 448.00,888.00 448.00,891.60" fill="#000" stroke="none"/>
<text transform="translate(367.00,880.7) scale(0.720,1)" font-size="18" font-weight="normal" fill="#000" stroke="none">d1</text>
<line x1="369.3" y1="930.5" x2="450.2" y2="930.5" stroke-width="1.2" />
<polygon points="410.10,930.20 401.60,932.00 401.60,928.40" fill="#000" stroke="none"/>
<polygon points="435.20,930.20 443.70,928.40 443.70,932.00" fill="#000" stroke="none"/>
<text transform="translate(378.50,920.2) scale(0.750,1)" font-size="18" font-weight="normal" fill="#000" stroke="none">d</text>
<line x1="317.1" y1="983.5" x2="527.2" y2="983.5" stroke-width="1.2" />
<polygon points="317.10,983.10 326.60,981.20 326.60,985.00" fill="#000" stroke="none"/>
<polygon points="527.20,983.10 517.70,985.00 517.70,981.20" fill="#000" stroke="none"/>
<text transform="translate(414.40,973.4) scale(0.741,1)" font-size="17.5" font-weight="normal" fill="#000" stroke="none">D1</text>
<line x1="302.8" y1="1015.5" x2="543" y2="1015.5" stroke-width="1.2" />
<polygon points="302.80,1015.70 312.30,1013.80 312.30,1017.60" fill="#000" stroke="none"/>
<polygon points="543.00,1015.70 533.50,1017.60 533.50,1013.80" fill="#000" stroke="none"/>
<text transform="translate(418.40,1005.9) scale(0.722,1)" font-size="17.5" font-weight="normal" fill="#000" stroke="none">D</text>
<circle cx="208.1" cy="401.3" r="15.5" stroke-width="1.3" fill="none" />
<text transform="translate(203.60,408.90000000000003) scale(0.705,1)" font-size="22" font-weight="normal" fill="#000" stroke="#fff" stroke-width="0.4">5</text>
<circle cx="208.1" cy="486.4" r="15.5" stroke-width="1.3" fill="none" />
<text transform="translate(204.00,494.0) scale(0.770,1)" font-size="22" font-weight="normal" fill="#000" stroke="#fff" stroke-width="0.4">4</text>
<circle cx="208.1" cy="568.8" r="15.5" stroke-width="1.3" fill="none" />
<text transform="translate(203.60,576.4) scale(0.705,1)" font-size="22" font-weight="normal" fill="#000" stroke="#fff" stroke-width="0.4">3</text>
<circle cx="208.1" cy="646.9" r="15.5" stroke-width="1.3" fill="none" />
<text transform="translate(203.60,654.5) scale(0.705,1)" font-size="22" font-weight="normal" fill="#000" stroke="#fff" stroke-width="0.4">2</text>
<circle cx="208.1" cy="741.3" r="15.5" stroke-width="1.3" fill="none" />
<text transform="translate(203.62,748.9) scale(0.935,1)" font-size="22" fill="#000" stroke="#fff" stroke-width="0.4">1</text>
<rect x="204.65" y="747.07" width="10.29" height="2.63" fill="#fff" stroke="none"/>
<rect x="208.99" y="746.70" width="1.41" height="2.20" fill="#000" stroke="none"/>
<line x1="222.6" y1="394.6" x2="333.5" y2="347.5" stroke-width="1.1" />
<line x1="223" y1="489.6" x2="478.6" y2="536.4" stroke-width="1.1" />
<line x1="223" y1="568.6" x2="399.5" y2="556.9" stroke-width="1.1" />
<line x1="223" y1="647.4" x2="422.5" y2="638.2" stroke-width="1.1" />
<line x1="223" y1="740.4" x2="350.3" y2="729.8" stroke-width="1.1" />
</g>
<g id="table1">
<line x1="83.3" y1="1074.7" x2="83.3" y2="1225.7" stroke-width="1.45" />
<line x1="146.7" y1="1074.7" x2="146.7" y2="1225.7" stroke-width="1.45" />
<line x1="210" y1="1074.7" x2="210" y2="1225.7" stroke-width="1.45" />
<line x1="272.7" y1="1074.7" x2="272.7" y2="1225.7" stroke-width="1.45" />
<line x1="335.5" y1="1074.7" x2="335.5" y2="1225.7" stroke-width="1.45" />
<line x1="397.7" y1="1074.7" x2="397.7" y2="1225.7" stroke-width="1.45" />
<line x1="460.8" y1="1074.7" x2="460.8" y2="1225.7" stroke-width="1.45" />
<line x1="523.2" y1="1074.7" x2="523.2" y2="1225.7" stroke-width="1.45" />
<line x1="586" y1="1074.7" x2="586" y2="1225.7" stroke-width="1.45" />
<line x1="649.1" y1="1074.7" x2="649.1" y2="1225.7" stroke-width="1.45" />
<line x1="712" y1="1074.7" x2="712" y2="1225.7" stroke-width="1.45" />
<line x1="82.6" y1="1075.4" x2="712.7" y2="1075.4" stroke-width="1.45" />
<line x1="82.6" y1="1135" x2="712.7" y2="1135" stroke-width="1.45" />
<line x1="82.6" y1="1165.4" x2="712.7" y2="1165.4" stroke-width="1.45" />
<line x1="82.6" y1="1195.6" x2="712.7" y2="1195.6" stroke-width="1.45" />
<line x1="82.6" y1="1225" x2="712.7" y2="1225" stroke-width="1.45" />
<text transform="translate(102.50,1117.9) scale(0.752,1)" font-size="19.5" font-weight="normal" fill="#000" stroke="#000" stroke-width="0.3">DN</text>
<text transform="translate(172.80,1117.9) scale(0.652,1)" font-size="19.5" font-weight="normal" fill="#000" stroke="#000" stroke-width="0.3">D</text>
<text transform="translate(231.00,1117.9) scale(0.695,1)" font-size="19.5" font-weight="normal" fill="#000" stroke="#000" stroke-width="0.3">D1</text>
<text transform="translate(296.60,1118.5) scale(0.657,1)" font-size="19.5" font-weight="normal" fill="#000" stroke="#000" stroke-width="0.3">L</text>
<text transform="translate(358.60,1117.9) scale(0.840,1)" font-size="19.5" font-weight="normal" fill="#000" stroke="#000" stroke-width="0.3">T</text>
<text transform="translate(423.00,1118.9) scale(0.840,1)" font-size="19.5" font-weight="normal" fill="#000" stroke="#000" stroke-width="0.3">d</text>
<text transform="translate(481.20,1118.2) scale(0.747,1)" font-size="19.5" font-weight="normal" fill="#000" stroke="#000" stroke-width="0.3">d1</text>
<text transform="translate(541.90,1117.3000000000002) scale(0.840,1)" font-size="19.5" font-weight="normal" letter-spacing="2.57" fill="#000" stroke="#000" stroke-width="0.3">n-d</text>
<text transform="translate(610.40,1116.7) scale(0.811,1)" font-size="19.5" font-weight="normal" fill="#000" stroke="#000" stroke-width="0.3">Do</text>
<text transform="translate(657.88,1100.3) scale(0.840,1)" font-size="17" font-weight="bold" letter-spacing="0.12" fill="#000" stroke="#fff" stroke-width="0.2">weight</text>
<text transform="translate(666.50,1123.2) scale(0.817,1)" font-size="17" font-weight="bold" fill="#000" stroke="#fff" stroke-width="0.2">(kg)</text>
<text transform="translate(100.70,1156.1) scale(0.839,1)" font-size="19" font-weight="normal" fill="#000" stroke="#000" stroke-width="0.3">25</text>
<text transform="translate(167.50,1156.1) scale(0.840,1)" font-size="19" font-weight="normal" letter-spacing="0.22" fill="#000" stroke="#000" stroke-width="0.3">265</text>
<text transform="translate(231.60,1156.1) scale(0.840,1)" font-size="19" font-weight="normal" letter-spacing="0.40" fill="#000" stroke="#000" stroke-width="0.3">230</text>
<text transform="translate(287.80,1155.5) scale(0.840,1)" font-size="19" font-weight="normal" letter-spacing="1.53" fill="#000" stroke="#000" stroke-width="0.3">840</text>
<text transform="translate(356.00,1158.3) scale(0.664,1)" font-size="19" font-weight="normal" fill="#000" stroke="#000" stroke-width="0.3">18</text>
<text transform="translate(416.40,1158.3) scale(0.815,1)" font-size="19" font-weight="normal" fill="#000" stroke="#000" stroke-width="0.3">25</text>
<text transform="translate(479.80,1157.5) scale(0.840,1)" font-size="19" font-weight="normal" letter-spacing="0.57" fill="#000" stroke="#000" stroke-width="0.3">34</text>
<text transform="translate(538.90,1157.5) scale(0.840,1)" font-size="19" font-weight="normal" letter-spacing="1.26" fill="#000" stroke="#000" stroke-width="0.3">8-19</text>
<text transform="translate(607.00,1157.5) scale(0.840,1)" font-size="19" font-weight="normal" letter-spacing="0.82" fill="#000" stroke="#000" stroke-width="0.3">280</text>
<text transform="translate(670.40,1157.5) scale(0.840,1)" font-size="19" font-weight="normal" letter-spacing="1.88" fill="#000" stroke="#000" stroke-width="0.3">42</text>
<text transform="translate(100.70,1185.8) scale(0.839,1)" font-size="19" font-weight="normal" fill="#000" stroke="#000" stroke-width="0.3">32</text>
<text transform="translate(167.50,1185.8) scale(0.840,1)" font-size="19" font-weight="normal" letter-spacing="0.22" fill="#000" stroke="#000" stroke-width="0.3">320</text>
<text transform="translate(231.60,1185.8) scale(0.840,1)" font-size="19" font-weight="normal" letter-spacing="0.40" fill="#000" stroke="#000" stroke-width="0.3">280</text>
<text transform="translate(287.80,1185.2) scale(0.840,1)" font-size="19" font-weight="normal" letter-spacing="1.53" fill="#000" stroke="#000" stroke-width="0.3">854</text>
<text transform="translate(356.00,1188.0) scale(0.840,1)" font-size="19" font-weight="normal" letter-spacing="0.33" fill="#000" stroke="#000" stroke-width="0.3">20</text>
<text transform="translate(416.40,1188.0) scale(0.815,1)" font-size="19" font-weight="normal" fill="#000" stroke="#000" stroke-width="0.3">32</text>
<text transform="translate(479.80,1187.2) scale(0.840,1)" font-size="19" font-weight="normal" letter-spacing="0.57" fill="#000" stroke="#000" stroke-width="0.3">40</text>
<text transform="translate(538.90,1187.2) scale(0.840,1)" font-size="19" font-weight="normal" letter-spacing="2.29" fill="#000" stroke="#000" stroke-width="0.3">8-23</text>
<text transform="translate(607.00,1187.2) scale(0.840,1)" font-size="19" font-weight="normal" letter-spacing="0.82" fill="#000" stroke="#000" stroke-width="0.3">400</text>
<text transform="translate(670.40,1187.2) scale(0.840,1)" font-size="19" font-weight="normal" letter-spacing="1.88" fill="#000" stroke="#000" stroke-width="0.3">50</text>
<text transform="translate(100.70,1215.8) scale(0.839,1)" font-size="19" font-weight="normal" fill="#000" stroke="#000" stroke-width="0.3">42</text>
<text transform="translate(167.50,1215.8) scale(0.840,1)" font-size="19" font-weight="normal" letter-spacing="0.22" fill="#000" stroke="#000" stroke-width="0.3">320</text>
<text transform="translate(231.60,1215.8) scale(0.840,1)" font-size="19" font-weight="normal" letter-spacing="0.40" fill="#000" stroke="#000" stroke-width="0.3">280</text>
<text transform="translate(287.80,1215.2) scale(0.811,1)" font-size="19" font-weight="normal" fill="#000" stroke="#000" stroke-width="0.3">861.5</text>
<text transform="translate(356.00,1218.0) scale(0.840,1)" font-size="19" font-weight="normal" letter-spacing="0.33" fill="#000" stroke="#000" stroke-width="0.3">20</text>
<text transform="translate(416.40,1218.0) scale(0.815,1)" font-size="19" font-weight="normal" fill="#000" stroke="#000" stroke-width="0.3">42</text>
<text transform="translate(479.80,1217.2) scale(0.840,1)" font-size="19" font-weight="normal" letter-spacing="0.57" fill="#000" stroke="#000" stroke-width="0.3">46</text>
<text transform="translate(538.90,1217.2) scale(0.840,1)" font-size="19" font-weight="normal" letter-spacing="2.29" fill="#000" stroke="#000" stroke-width="0.3">8-23</text>
<text transform="translate(607.00,1217.2) scale(0.840,1)" font-size="19" font-weight="normal" letter-spacing="0.82" fill="#000" stroke="#000" stroke-width="0.3">500</text>
<text transform="translate(670.40,1217.2) scale(0.840,1)" font-size="19" font-weight="normal" letter-spacing="1.88" fill="#000" stroke="#000" stroke-width="0.3">58</text>
</g>
<g id="table2">
<line x1="20" y1="1291.6000000000001" x2="20" y2="1609.6" stroke-width="1.6" />
<line x1="89.4" y1="1291.6000000000001" x2="89.4" y2="1609.6" stroke-width="1.6" />
<line x1="345.3" y1="1291.6000000000001" x2="345.3" y2="1609.6" stroke-width="1.6" />
<line x1="585" y1="1291.6000000000001" x2="585" y2="1609.6" stroke-width="1.6" />
<line x1="684.3" y1="1291.6000000000001" x2="684.3" y2="1609.6" stroke-width="1.6" />
<line x1="803.7" y1="1291.6000000000001" x2="803.7" y2="1609.6" stroke-width="1.6" />
<line x1="19.4" y1="1292.2" x2="804.5" y2="1292.2" stroke-width="1.6" />
<line x1="19.4" y1="1347.4" x2="804.5" y2="1347.4" stroke-width="1.6" />
<line x1="19.4" y1="1402.9" x2="804.5" y2="1402.9" stroke-width="1.6" />
<line x1="19.4" y1="1457.8" x2="804.5" y2="1457.8" stroke-width="1.6" />
<line x1="19.4" y1="1513.8" x2="804.5" y2="1513.8" stroke-width="1.6" />
<line x1="19.4" y1="1569.6" x2="804.5" y2="1569.6" stroke-width="1.6" />
<line x1="19.4" y1="1608.8" x2="804.5" y2="1608.8" stroke-width="1.6" />
<text transform="translate(51.20,1332.2) scale(0.770,1)" font-size="22" font-weight="normal" fill="#000" stroke="none">5</text>
<text transform="translate(51.00,1387.9) scale(0.840,1)" font-size="22" font-weight="normal" fill="#000" stroke="none">4</text>
<text transform="translate(51.20,1443.6) scale(0.770,1)" font-size="22" font-weight="normal" fill="#000" stroke="none">3</text>
<text transform="translate(51.20,1497.4) scale(0.828,1)" font-size="22" font-weight="normal" fill="#000" stroke="none">2</text>
<text transform="translate(52.19,1548.6) scale(1.002,1)" font-size="23" fill="#000" stroke="none">1</text>
<rect x="53.34" y="1546.69" width="11.52" height="2.71" fill="#fff" stroke="none"/>
<rect x="57.97" y="1546.30" width="2.03" height="2.30" fill="#000" stroke="none"/>
<text transform="translate(41.40,1598.6) scale(0.767,1)" font-size="22" font-weight="normal" fill="#000" stroke="none">NO.</text>
<text transform="translate(146.60,1327.2) scale(0.840,1)" font-size="22.5" font-weight="normal" letter-spacing="1.18" fill="#000" stroke="none">Handwhell</text>
<text transform="translate(169.20,1385.5) scale(0.840,1)" font-size="22.5" font-weight="normal" letter-spacing="3.91" fill="#000" stroke="none">Staff</text>
<text transform="translate(151.70,1441.2) scale(0.840,1)" font-size="22.5" font-weight="normal" letter-spacing="1.86" fill="#000" stroke="none">Indicator</text>
<text transform="translate(171.30,1496.7) scale(0.840,1)" font-size="22.5" font-weight="normal" letter-spacing="1.51" fill="#000" stroke="none">Stem</text>
<text transform="translate(171.30,1552) scale(0.840,1)" font-size="22.5" font-weight="normal" letter-spacing="0.84" fill="#000" stroke="none">Body</text>
<text transform="translate(139.90,1596.9) scale(0.840,1)" font-size="22.5" font-weight="normal" letter-spacing="1.73" fill="#000" stroke="none">Description</text>
<text transform="translate(387.90,1331.2) scale(0.840,1)" font-size="21" font-weight="normal" fill="#000" stroke="none">CAST IRON FC200</text>
<text transform="translate(418.30,1386.2) scale(0.840,1)" font-size="21" font-weight="normal" letter-spacing="1.20" fill="#000" stroke="none">Brass H62</text>
<text transform="translate(418.30,1444.2) scale(0.840,1)" font-size="21" font-weight="normal" letter-spacing="1.20" fill="#000" stroke="none">Brass H62</text>
<text transform="translate(376.40,1497.4) scale(0.840,1)" font-size="22.5" font-weight="normal" letter-spacing="0.71" fill="#000" stroke="none">SATINLESS STEEL</text>
<text transform="translate(387.90,1553) scale(0.840,1)" font-size="21" font-weight="normal" fill="#000" stroke="none">CAST IRON FC200</text>
<text transform="translate(425.40,1598.6) scale(0.840,1)" font-size="22" font-weight="normal" letter-spacing="2.13" fill="#000" stroke="none">Material</text>
<text transform="translate(630.59,1329.1) scale(1.002,1)" font-size="23" fill="#000" stroke="none">1</text>
<rect x="631.74" y="1327.19" width="11.52" height="2.71" fill="#fff" stroke="none"/>
<rect x="636.37" y="1326.80" width="2.03" height="2.30" fill="#000" stroke="none"/>
<text transform="translate(630.59,1387.3) scale(1.002,1)" font-size="23" fill="#000" stroke="none">1</text>
<rect x="631.74" y="1385.39" width="11.52" height="2.71" fill="#fff" stroke="none"/>
<rect x="636.37" y="1385.00" width="2.03" height="2.30" fill="#000" stroke="none"/>
<text transform="translate(630.59,1446) scale(1.002,1)" font-size="23" fill="#000" stroke="none">1</text>
<rect x="631.74" y="1444.09" width="11.52" height="2.71" fill="#fff" stroke="none"/>
<rect x="636.37" y="1443.70" width="2.03" height="2.30" fill="#000" stroke="none"/>
<text transform="translate(630.59,1501.7) scale(1.002,1)" font-size="23" fill="#000" stroke="none">1</text>
<rect x="631.74" y="1499.79" width="11.52" height="2.71" fill="#fff" stroke="none"/>
<rect x="636.37" y="1499.40" width="2.03" height="2.30" fill="#000" stroke="none"/>
<text transform="translate(630.59,1554.8) scale(1.002,1)" font-size="23" fill="#000" stroke="none">1</text>
<rect x="631.74" y="1552.89" width="11.52" height="2.71" fill="#fff" stroke="none"/>
<rect x="636.37" y="1552.50" width="2.03" height="2.30" fill="#000" stroke="none"/>
<text transform="translate(612.40,1598.8) scale(0.840,1)" font-size="22" font-weight="normal" letter-spacing="1.51" fill="#000" stroke="none">QTY</text>
<text transform="translate(708.60,1598.8) scale(0.840,1)" font-size="22" font-weight="normal" letter-spacing="1.44" fill="#000" stroke="none">Remark</text>
</g>
<g id="titleblock">
<line x1="41.6" y1="1703.6" x2="823" y2="1703.6" stroke-width="1.6" />
<line x1="41.6" y1="1734.3" x2="390" y2="1734.3" stroke-width="1.6" />
<line x1="41.6" y1="1764.8" x2="390" y2="1764.8" stroke-width="1.6" />
<line x1="41.6" y1="1795.2" x2="390" y2="1795.2" stroke-width="1.6" />
<line x1="41.6" y1="1825.6" x2="390" y2="1825.6" stroke-width="1.6" />
<line x1="41.6" y1="1865.9" x2="390" y2="1865.9" stroke-width="1.6" />
<line x1="41.6" y1="1906.2" x2="390" y2="1906.2" stroke-width="1.6" />
<line x1="42.4" y1="1703.6" x2="42.4" y2="1939.8" stroke-width="1.6" />
<line x1="389.3" y1="1703.6" x2="389.3" y2="1939.8" stroke-width="1.6" />
<line x1="111.7" y1="1703.6" x2="111.7" y2="1825.6" stroke-width="1.6" />
<line x1="181.6" y1="1703.6" x2="181.6" y2="1825.6" stroke-width="1.6" />
<line x1="251" y1="1703.6" x2="251" y2="1825.6" stroke-width="1.6" />
<line x1="320.5" y1="1703.6" x2="320.5" y2="1825.6" stroke-width="1.6" />
<line x1="128.9" y1="1825.6" x2="128.9" y2="1939.8" stroke-width="1.6" />
<line x1="216.6" y1="1825.6" x2="216.6" y2="1939.8" stroke-width="1.6" />
<line x1="303.2" y1="1825.6" x2="303.2" y2="1939.8" stroke-width="1.6" />
<line x1="606.6" y1="1703.6" x2="606.6" y2="1939.8" stroke-width="1.6" />
<line x1="606.6" y1="1765" x2="823" y2="1765" stroke-width="1.6" />
<line x1="606.6" y1="1803.9" x2="823" y2="1803.9" stroke-width="1.6" />
<line x1="606.6" y1="1842.7" x2="823" y2="1842.7" stroke-width="1.6" />
<line x1="606.6" y1="1886" x2="823" y2="1886" stroke-width="1.6" />
<line x1="667.3" y1="1765" x2="667.3" y2="1842.7" stroke-width="1.6" />
<line x1="730.2" y1="1765" x2="730.2" y2="1842.7" stroke-width="1.6" />
<text transform="translate(61.70,1815.5) scale(0.840,1)" font-size="16" font-weight="bold" letter-spacing="0.36" fill="#000" stroke="#fff" stroke-width="0.2">Note</text>
<text transform="translate(125.50,1815.5) scale(0.840,1)" font-size="16" font-weight="normal" letter-spacing="0.65" fill="#000" stroke="none">Handle</text>
<text transform="translate(206.70,1815.5) scale(0.736,1)" font-size="16" font-weight="bold" fill="#000" stroke="#fff" stroke-width="0.2">NO.</text>
<text transform="translate(272.30,1815.5) scale(0.840,1)" font-size="16" font-weight="normal" letter-spacing="0.13" fill="#000" stroke="none">Sign</text>
<text transform="translate(341.00,1815.2) scale(0.840,1)" font-size="16" font-weight="bold" letter-spacing="0.85" fill="#000" stroke="#fff" stroke-width="0.2">Date</text>
<text transform="translate(54.00,1851.5) scale(0.837,1)" font-size="16" font-weight="bold" fill="#000" stroke="#fff" stroke-width="0.2">Design</text>
<text transform="translate(146.00,1852) scale(0.840,1)" font-size="16" font-weight="bold" letter-spacing="0.24" fill="#000" stroke="#fff" stroke-width="0.2">Fukewei</text>
<text transform="translate(226.50,1853.6) scale(0.840,1)" font-size="16" font-weight="normal" letter-spacing="0.40" fill="#000" stroke="none">Review</text>
<text transform="translate(52.50,1894.9) scale(0.840,1)" font-size="16" font-weight="bold" letter-spacing="0.62" fill="#000" stroke="#fff" stroke-width="0.2">Calibrator</text>
<text transform="translate(146.00,1892) scale(0.840,1)" font-size="16" font-weight="bold" letter-spacing="0.24" fill="#000" stroke="#fff" stroke-width="0.2">Fukewei</text>
<text transform="translate(225.80,1890.2) scale(0.840,1)" font-size="16" font-weight="normal" letter-spacing="1.43" fill="#000" stroke="none">Approver</text>
<text transform="translate(52.50,1933.4) scale(0.840,1)" font-size="16" font-weight="bold" letter-spacing="0.43" fill="#000" stroke="#fff" stroke-width="0.2">Process</text>
<text transform="translate(226.50,1932.3) scale(0.840,1)" font-size="16" font-weight="normal" letter-spacing="1.15" fill="#000" stroke="none">Date</text>
<text transform="translate(316.40,1934.3) scale(0.839,1)" font-size="16" font-weight="normal" fill="#000" stroke="none">2013.7.4</text>
<text transform="translate(437.00,1847.3) scale(0.736,1)" font-size="35" font-weight="normal" fill="#000" stroke="#fff" stroke-width="0.8">DRAWING</text>
<text transform="translate(656.20,1741.6) scale(0.840,1)" font-size="18" font-weight="normal" letter-spacing="0.15" fill="#000" stroke="#000" stroke-width="0.25">JIS F3024</text>
<text transform="translate(616.10,1790.4) scale(0.840,1)" font-size="16.4" font-weight="bold" letter-spacing="0.17" fill="#000" stroke="#fff" stroke-width="0.2">Note</text>
<text transform="translate(684.00,1791.2) scale(0.837,1)" font-size="16.4" font-weight="normal" fill="#000" stroke="#000" stroke-width="0.3">QTY</text>
<text transform="translate(733.00,1790.6) scale(0.840,1)" font-size="16.4" font-weight="bold" letter-spacing="0.40" fill="#000" stroke="#fff" stroke-width="0.2">Proportion</text>
<text transform="translate(654.60,1869) scale(0.840,1)" font-size="16.4" font-weight="bold" letter-spacing="1.50" fill="#000" stroke="#fff" stroke-width="0.2">A total of 1 first</text>
<text transform="translate(613.00,1909.6) scale(0.840,1)" font-size="16.4" font-weight="bold" letter-spacing="0.74" fill="#000" stroke="#fff" stroke-width="0.3">QingDao V-goal Marine Valve</text>
<text transform="translate(636.90,1932.2) scale(0.840,1)" font-size="16.4" font-weight="bold" letter-spacing="0.10" fill="#000" stroke="#fff" stroke-width="0.3">Manufacturing CO.,LTD.</text>
</g>
</svg>
</body></html>
